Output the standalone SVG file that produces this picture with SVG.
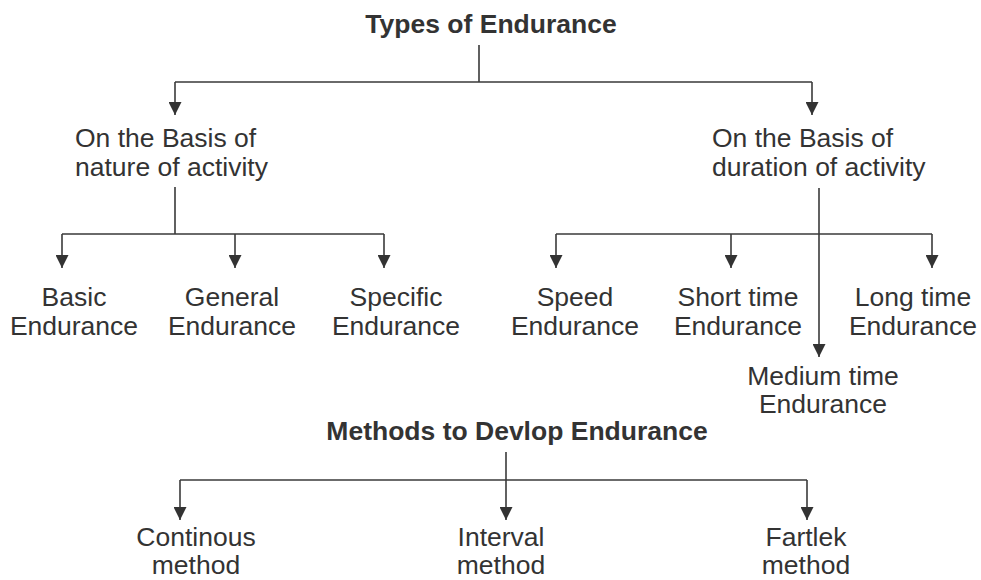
<svg xmlns="http://www.w3.org/2000/svg" width="981" height="580" viewBox="0 0 981 580">
<style>
text{font-family:"Liberation Sans",Arial,sans-serif;fill:#333;font-size:26.5px}
.b{font-weight:bold}
.c{text-anchor:middle}
.ln{fill:none;stroke:#3a3a3a;stroke-width:1.6}
</style>
<defs>
<marker id="ah" viewBox="0 0 13 13" markerWidth="13" markerHeight="13" refX="13" refY="6.5" orient="auto" markerUnits="userSpaceOnUse">
<path d="M0,0 L13,6.5 L0,13 z" fill="#333"/>
</marker>
</defs>
<rect width="981" height="580" fill="#fff"/>
<g id="connectors">
<path class="ln" d="M479,45 V82 M175,82 H812"/>
<path class="ln" d="M175,82 V115" marker-end="url(#ah)"/>
<path class="ln" d="M812,82 V115" marker-end="url(#ah)"/>
<path class="ln" d="M175,187 V234 M62,234 H384"/>
<path class="ln" d="M62,234 V268" marker-end="url(#ah)"/>
<path class="ln" d="M235,234 V268" marker-end="url(#ah)"/>
<path class="ln" d="M384,234 V268" marker-end="url(#ah)"/>
<path class="ln" d="M556,234 H932"/>
<path class="ln" d="M819,188 V357" marker-end="url(#ah)"/>
<path class="ln" d="M556,234 V268" marker-end="url(#ah)"/>
<path class="ln" d="M731,234 V268" marker-end="url(#ah)"/>
<path class="ln" d="M932,234 V268" marker-end="url(#ah)"/>
<path class="ln" d="M180,480 H807"/>
<path class="ln" d="M506,452 V520" marker-end="url(#ah)"/>
<path class="ln" d="M180,480 V520" marker-end="url(#ah)"/>
<path class="ln" d="M807,480 V520" marker-end="url(#ah)"/>
</g>
<g id="types"><text class="b c" x="491" y="33">Types of Endurance</text></g>
<g id="nature"><text x="75" y="147">On the Basis of</text><text x="75" y="176">nature of activity</text></g>
<g id="duration"><text x="712" y="147">On the Basis of</text><text x="712" y="176">duration of activity</text></g>
<g id="basic"><text class="c" x="74" y="306">Basic</text><text class="c" x="74" y="335">Endurance</text></g>
<g id="general"><text class="c" x="232" y="306">General</text><text class="c" x="232" y="335">Endurance</text></g>
<g id="specific"><text class="c" x="396" y="306">Specific</text><text class="c" x="396" y="335">Endurance</text></g>
<g id="speed"><text class="c" x="575" y="306">Speed</text><text class="c" x="575" y="335">Endurance</text></g>
<g id="short"><text class="c" x="738" y="306">Short time</text><text class="c" x="738" y="335">Endurance</text></g>
<g id="long"><text class="c" x="913" y="306">Long time</text><text class="c" x="913" y="335">Endurance</text></g>
<g id="medium"><text class="c" x="823" y="385">Medium time</text><text class="c" x="823" y="413">Endurance</text></g>
<g id="methods"><text class="b c" x="517" y="440">Methods to Devlop Endurance</text></g>
<g id="continous"><text class="c" x="196" y="546">Continous</text><text class="c" x="196" y="574">method</text></g>
<g id="interval"><text class="c" x="501" y="546">Interval</text><text class="c" x="501" y="574">method</text></g>
<g id="fartlek"><text class="c" x="806" y="546">Fartlek</text><text class="c" x="806" y="574">method</text></g>
</svg>
